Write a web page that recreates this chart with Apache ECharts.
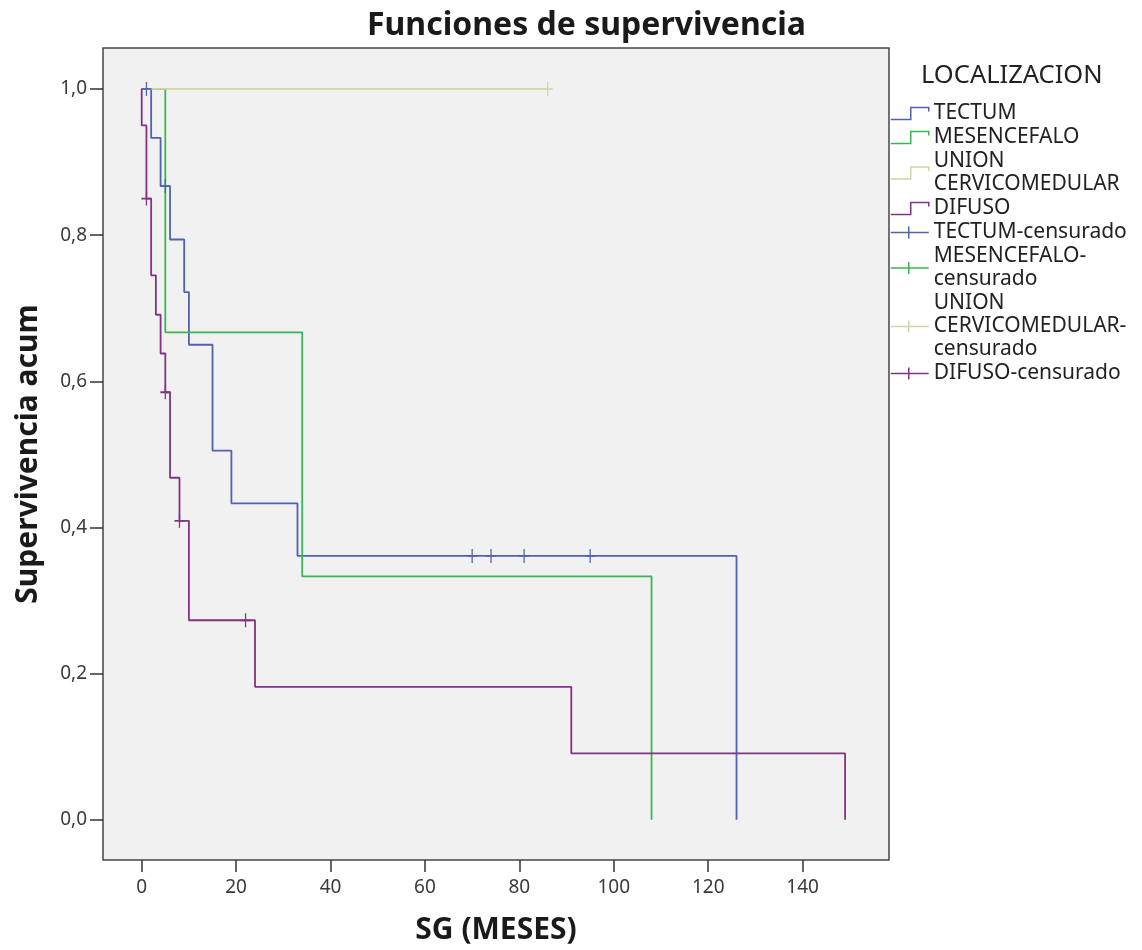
<!DOCTYPE html>
<html>
<head>
<meta charset="utf-8">
<title>Funciones de supervivencia</title>
<script src="https://cdn.jsdelivr.net/npm/echarts@6/dist/echarts.min.js"></script>
<style>
    html, body { margin: 0; padding: 0; background: #fff; }
    #chart { width: 1142px; height: 950px; }
</style>
</head>
<body>
<div id="chart"></div>
<script>
// Kaplan-Meier steps (months, cumulative survival)
const tectumT = [0, 2, 4, 6, 9, 10, 15, 19, 33, 126]
const tectumS = [1, 0.933, 0.867, 0.794, 0.722, 0.650, 0.505, 0.433, 0.361, 0]
const mesT = [0, 5, 34, 108]
const mesS = [1, 0.667, 0.333, 0]
const unionT = [0, 86]
const unionS = [1, 1]
const difT = [0, 0, 1, 2, 3, 4, 5, 6, 8, 10, 24, 91, 149]
const difS = [1, 0.95, 0.85, 0.745, 0.691, 0.638, 0.585, 0.468, 0.409, 0.273, 0.182, 0.091, 0]

// censored cases
const tectumCensT = [1, 5, 70, 74, 81, 95]
const tectumCensS = [1, 0.867, 0.361, 0.361, 0.361, 0.361]
const mesCensT = []
const mesCensS = []
const unionCensT = [86]
const unionCensS = [1]
const difCensT = [1, 5, 8, 22]
const difCensS = [0.85, 0.585, 0.409, 0.273]

const groups = ['TECTUM', 'MESENCEFALO', 'UNION CERVICOMEDULAR', 'DIFUSO']
const legendLabels = {
    'TECTUM': 'TECTUM',
    'MESENCEFALO': 'MESENCEFALO',
    'UNION CERVICOMEDULAR': 'UNION\nCERVICOMEDULAR',
    'DIFUSO': 'DIFUSO',
    'TECTUM-censurado': 'TECTUM-censurado',
    'MESENCEFALO-censurado': 'MESENCEFALO-\ncensurado',
    'UNION CERVICOMEDULAR-censurado': 'UNION\nCERVICOMEDULAR-\ncensurado',
    'DIFUSO-censurado': 'DIFUSO-censurado'
}
const xTicks = [0, 20, 40, 60, 80, 100, 120, 140]
const yTicks = [0, 0.2, 0.4, 0.6, 0.8, 1.0]

const colors = ['#4f63b2', '#3db554', '#d3d5a2', '#823483']
const stepIcon = 'path://M0,12 L20,12 L20,0 L38,0 L38,4'
const censIcon = 'path://M0,6 L38,6 M18,0 L18,12'
const plusMark = 'path://M5,0 L5,14 M0,7 L10,7'

function pairs (t, s) {
    return t.map((v, i) => [v, s[i]])
}

const curves = [[tectumT, tectumS], [mesT, mesS], [unionT, unionS], [difT, difS]]
const censored = [[tectumCensT, tectumCensS], [mesCensT, mesCensS], [unionCensT, unionCensS], [difCensT, difCensS]]

const series = []
const legendData = []
groups.forEach((name, i) => {
    series.push({
        name: name,
        type: 'line',
        step: 'end',
        showSymbol: false,
        symbol: 'none',
        lineStyle: {color: colors[i], width: 1.8},
        itemStyle: {color: colors[i]},
        data: pairs(curves[i][0], curves[i][1])
    })
    legendData.push({
        name: name,
        icon: stepIcon,
        itemStyle: {color: 'rgba(0,0,0,0)', borderColor: colors[i], borderWidth: 1.5}
    })
})
groups.forEach((name, i) => {
    series.push({
        name: name + '-censurado',
        type: 'scatter',
        symbol: plusMark,
        symbolSize: [10, 14],
        itemStyle: {color: 'rgba(0,0,0,0)', borderColor: colors[i], borderWidth: 1.5, opacity: 1},
        z: 5,
        data: pairs(censored[i][0], censored[i][1])
    })
    legendData.push({
        name: name + '-censurado',
        icon: censIcon,
        itemStyle: {color: 'rgba(0,0,0,0)', borderColor: colors[i], borderWidth: 1.5}
    })
})

const font = '"Noto Sans", "DejaVu Sans", sans-serif'

const option = {
    animation: false,
    textStyle: {fontFamily: font},
    title: [
        {
            text: 'Funciones de supervivencia',
            left: 367,
            top: 10,
            padding: 0,
            textStyle: {fontFamily: font, fontSize: 32, fontWeight: 'bold', color: '#1a1a1a'}
        },
        {
            text: 'LOCALIZACION',
            left: 921,
            top: 63,
            padding: 0,
            textStyle: {fontFamily: font, fontSize: 25.5, fontWeight: 'normal', color: '#222'}
        }
    ],
    legend: {
        orient: 'vertical',
        left: 890,
        top: 102,
        padding: 0,
        itemGap: 1,
        itemWidth: 38,
        itemHeight: 12,
        selectedMode: false,
        data: legendData,
        formatter: name => legendLabels[name],
        textStyle: {fontFamily: font, fontSize: 21, lineHeight: 23, color: '#222', padding: [0, 0, 0, 0]}
    },
    grid: {
        left: 103,
        top: 48,
        right: 253,
        bottom: 89,
        show: true,
        backgroundColor: '#f1f1f1',
        borderColor: '#454545',
        borderWidth: 1.5
    },
    xAxis: {
        type: 'value',
        min: -8.2,
        max: 158.3,
        name: 'SG (MESES)',
        nameLocation: 'middle',
        nameGap: 55,
        nameTextStyle: {fontFamily: font, fontSize: 30, fontWeight: 'bold', color: '#1a1a1a'},
        axisLine: {show: false, onZero: false},
        splitLine: {show: false},
        axisTick: {show: true, inside: false, customValues: xTicks, length: 12, lineStyle: {color: '#333', width: 1.5}},
        axisLabel: {customValues: xTicks, margin: 18, fontSize: 19, color: '#3a3a3a', fontFamily: font}
    },
    yAxis: {
        type: 'value',
        min: -0.055,
        max: 1.056,
        name: 'Supervivencia acum',
        nameLocation: 'middle',
        nameGap: 60,
        nameTextStyle: {fontFamily: font, fontSize: 30, fontWeight: 'bold', color: '#1a1a1a'},
        axisLine: {show: false, onZero: false},
        splitLine: {show: false},
        axisTick: {show: true, inside: false, customValues: yTicks, length: 13, lineStyle: {color: '#333', width: 1.5}},
        axisLabel: {
            customValues: yTicks,
            margin: 16,
            fontSize: 19,
            color: '#3a3a3a',
            fontFamily: font,
            formatter: v => v.toFixed(1).replace('.', ',')
        }
    },
    series: series
}

const chart = echarts.init(document.getElementById('chart'))
chart.setOption(option)
</script>
</body>
</html>
